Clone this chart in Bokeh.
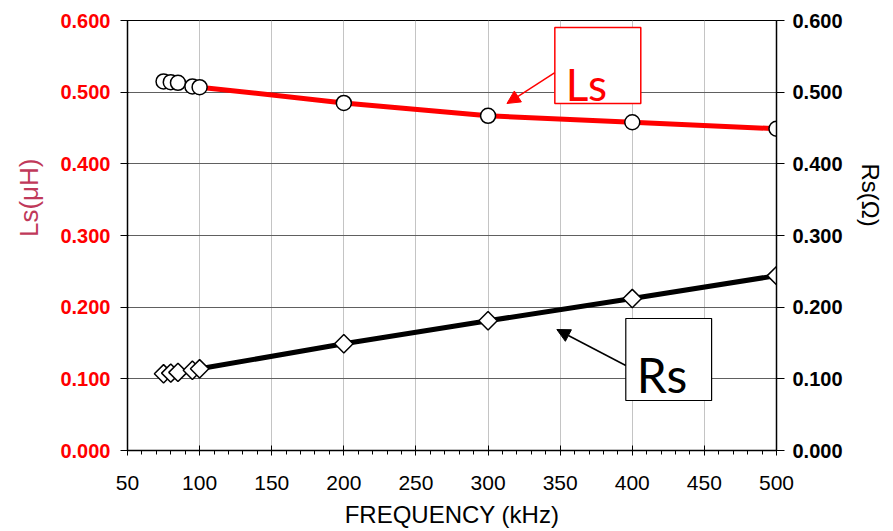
import numpy as np
from bokeh.plotting import figure
from bokeh.models import (Range1d, LinearAxis, SingleIntervalTicker, FixedTicker, NumeralTickFormatter,
                          BoxAnnotation, Label, Arrow, NormalHead, Title)
from bokeh.embed import file_html
from bokeh.resources import INLINE

# ---- data ----
freq_khz = [75, 80, 85, 95, 100, 200, 300, 400, 500]
ls_uh = [0.515, 0.514, 0.513, 0.508, 0.507, 0.485, 0.467, 0.458, 0.449]
rs_ohm = [0.107, 0.108, 0.109, 0.112, 0.114, 0.149, 0.181, 0.212, 0.244]

y_ticks = [0.0, 0.1, 0.2, 0.3, 0.4, 0.5, 0.6]

x_title = "FREQUENCY (kHz)"
ls_title = "Ls(μH)"
rs_title = "Rs(Ω)"

FONT = "Liberation Sans"

p = figure(width=892, height=530, output_backend="svg", toolbar_location=None,
           x_range=Range1d(50, 500), y_range=Range1d(0, 0.6),
           min_border_left=127, min_border_right=115, min_border_top=20, min_border_bottom=80)
p.extra_y_ranges = {"rs": Range1d(0, 0.6)}

p.background_fill_color = "white"
p.outline_line_color = "black"
p.outline_line_width = 1

# grids
p.xgrid.ticker = SingleIntervalTicker(interval=50, num_minor_ticks=5)
p.ygrid.ticker = FixedTicker(ticks=y_ticks)
p.xgrid.grid_line_color = "#c4c4c4"
p.xgrid.grid_line_width = 1
p.ygrid.grid_line_color = "#606060"
p.ygrid.grid_line_width = 1

# x axis
xa = p.xaxis[0]
xa.ticker = SingleIntervalTicker(interval=50, num_minor_ticks=5)
xa.axis_label = x_title
xa.axis_label_text_font = FONT
xa.axis_label_text_font_style = "normal"
xa.axis_label_text_font_size = "24px"
xa.axis_label_text_color = "black"
xa.axis_label_standoff = 8
xa.major_label_text_font = FONT
xa.major_label_text_font_size = "21px"
xa.major_label_text_color = "black"
xa.major_label_standoff = 20
xa.axis_line_color = "black"
xa.axis_line_width = 1.5
xa.major_tick_in = 5
xa.major_tick_out = 5
xa.minor_tick_in = 0
xa.minor_tick_out = 4
xa.major_tick_line_color = "black"
xa.minor_tick_line_color = "black"

# left y axis
ya = p.yaxis[0]
ya.ticker = FixedTicker(ticks=y_ticks)
ya.formatter = NumeralTickFormatter(format="0.000")
ya.major_label_text_font = FONT
ya.major_label_text_font_style = "bold"
ya.major_label_text_font_size = "20px"
ya.major_label_text_color = "#ff0000"
ya.major_label_standoff = 10
ya.axis_line_color = "black"
ya.axis_line_width = 1.5
ya.major_tick_in = 1
ya.major_tick_out = 7
ya.major_tick_line_color = "black"

# right y axis
ra = LinearAxis(y_range_name="rs", ticker=FixedTicker(ticks=y_ticks),
                formatter=NumeralTickFormatter(format="0.000"))
ra.major_label_text_font = FONT
ra.major_label_text_font_style = "bold"
ra.major_label_text_font_size = "20px"
ra.major_label_text_color = "black"
ra.major_label_standoff = 8
ra.axis_line_color = "black"
ra.axis_line_width = 1.5
ra.major_tick_in = 0
ra.major_tick_out = 8
ra.major_tick_line_color = "black"
p.add_layout(ra, "right")

# axis titles (placed above centre, as in the original)
p.add_layout(Title(text=ls_title, align="right", offset=138, vertical_align="middle",
                   standoff=25, text_font=FONT, text_font_size="26px",
                   text_font_style="normal", text_color="#C0395A"), "left")
p.add_layout(Title(text=rs_title, align="left", offset=143, vertical_align="top",
                   standoff=18, text_font=FONT, text_font_size="24px",
                   text_font_style="normal", text_color="black"), "right")

# series
p.line(freq_khz, ls_uh, line_color="#ff0000", line_width=5)
p.scatter(freq_khz, ls_uh, marker="circle", size=15, fill_color="white",
          line_color="black", line_width=1.5)

p.line(freq_khz, rs_ohm, y_range_name="rs", line_color="black", line_width=5)
p.scatter(freq_khz, rs_ohm, y_range_name="rs", marker="square", angle=np.pi / 4, size=13,
          fill_color="white", line_color="black", line_width=1.5)

# annotations
p.add_layout(BoxAnnotation(left=346.3, right=405.9, bottom=0.4842, top=0.5902,
                           fill_color="white", fill_alpha=1.0,
                           line_color="#ff0000", line_alpha=1.0, line_width=1.5))
p.add_layout(Label(x=353.9, y=0.5117, text="Ls", text_font="Lato", text_font_size="44px",
                   text_color="#ff0000", text_baseline="alphabetic", text_align="left"))
p.add_layout(Arrow(x_start=346.3, y_start=0.5274, x_end=313.1, y_end=0.4842,
                   line_color="#ff0000", line_width=1.5,
                   end=NormalHead(size=13, fill_color="#ff0000", line_color="#ff0000")))

p.add_layout(BoxAnnotation(left=395.5, right=455.0, bottom=0.0698, top=0.1842,
                           fill_color="white", fill_alpha=1.0,
                           line_color="black", line_alpha=1.0, line_width=1.2))
p.add_layout(Label(x=403.1, y=0.1060, text="Rs", text_font="Lato", text_font_size="48px",
                   text_color="black", text_baseline="alphabetic", text_align="left"))
p.add_layout(Arrow(x_start=395.5, y_start=0.1186, x_end=347.7, y_end=0.1688,
                   line_color="black", line_width=1.5,
                   end=NormalHead(size=13, fill_color="black", line_color="black")))

open("out.html", "w").write(file_html(p, INLINE))
